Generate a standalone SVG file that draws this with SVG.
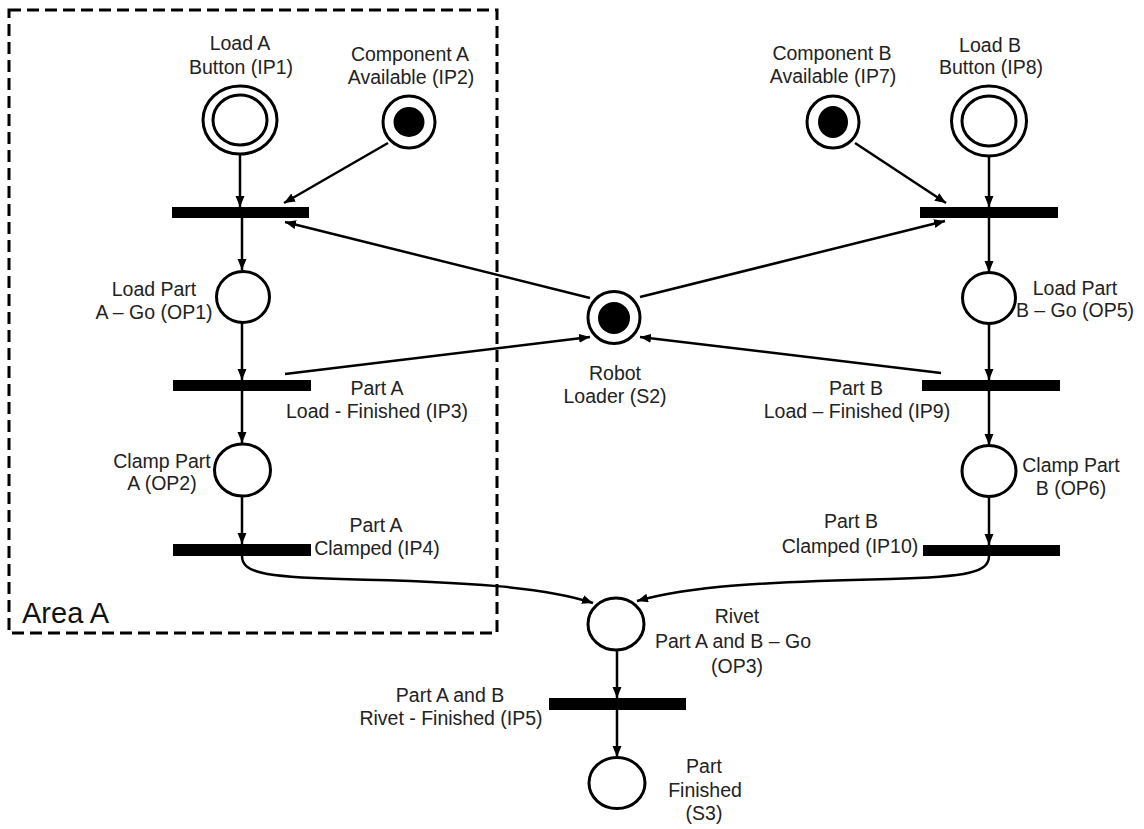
<svg xmlns="http://www.w3.org/2000/svg" width="1144" height="829" viewBox="0 0 1144 829">
<style>
  .pl { fill: #fff; stroke: #000; stroke-width: 3; }
  .tok { fill: #000; }
  .tr { fill: #000; }
  .arc { fill: none; stroke: #000; stroke-width: 2.5; }
  text { font-family: "Liberation Sans", Arial, sans-serif; font-size: 19.5px; fill: #222; text-anchor: middle; }
  .area { font-size: 29px; text-anchor: start; fill: #111; }
  .box { fill: none; stroke: #000; stroke-width: 3; stroke-dasharray: 12 6; }
</style>
<defs>
  <marker id="ah" markerUnits="userSpaceOnUse" markerWidth="12" markerHeight="10" refX="11" refY="4.5" orient="auto">
    <path d="M0,0 L11,4.5 L0,9 z" fill="#000"/>
  </marker>
</defs>
<rect width="1144" height="829" fill="#fff"/>

<g id="areaA">
  <rect class="box" x="9" y="10" width="488" height="623"/>
  <text class="area" x="22" y="623">Area A</text>
</g>

<g id="connectors">
  <line class="arc" x1="240" y1="155" x2="240" y2="207" marker-end="url(#ah)"/>
  <line class="arc" x1="388" y1="143" x2="284" y2="203" marker-end="url(#ah)"/>
  <line class="arc" x1="590" y1="298" x2="285" y2="222" marker-end="url(#ah)"/>
  <line class="arc" x1="242" y1="218" x2="242" y2="270" marker-end="url(#ah)"/>
  <line class="arc" x1="242" y1="323" x2="242" y2="380" marker-end="url(#ah)"/>
  <line class="arc" x1="285" y1="374" x2="590" y2="337" marker-end="url(#ah)"/>
  <line class="arc" x1="242" y1="391" x2="242" y2="443" marker-end="url(#ah)"/>
  <line class="arc" x1="242" y1="497" x2="242" y2="544" marker-end="url(#ah)"/>
  <path class="arc" d="M242,556 C242,572 262,577 340,579 C470,582 545,587 593,603" marker-end="url(#ah)"/>

  <line class="arc" x1="989" y1="157" x2="989" y2="207" marker-end="url(#ah)"/>
  <line class="arc" x1="855" y1="143" x2="946" y2="203" marker-end="url(#ah)"/>
  <line class="arc" x1="640" y1="297" x2="945" y2="221" marker-end="url(#ah)"/>
  <line class="arc" x1="989" y1="218" x2="989" y2="272" marker-end="url(#ah)"/>
  <line class="arc" x1="989" y1="324" x2="989" y2="380" marker-end="url(#ah)"/>
  <line class="arc" x1="941" y1="373" x2="640" y2="337" marker-end="url(#ah)"/>
  <line class="arc" x1="989" y1="391" x2="989" y2="445" marker-end="url(#ah)"/>
  <line class="arc" x1="989" y1="497" x2="989" y2="545" marker-end="url(#ah)"/>
  <path class="arc" d="M989,556 C989,572 969,577 890,579 C760,582 690,586 637,601" marker-end="url(#ah)"/>

  <line class="arc" x1="617" y1="651" x2="617" y2="698" marker-end="url(#ah)"/>
  <line class="arc" x1="617" y1="710" x2="617" y2="757" marker-end="url(#ah)"/>
</g>

<g id="IP1">
  <ellipse class="pl" cx="240" cy="120" rx="37" ry="34"/>
  <ellipse class="pl" cx="240" cy="120" rx="27" ry="25"/>
  <text x="240" y="50">Load A</text>
  <text x="241" y="74">Button (IP1)</text>
</g>
<g id="IP2">
  <ellipse class="pl" cx="409" cy="122" rx="26" ry="26"/>
  <ellipse class="tok" cx="409" cy="122" rx="15.5" ry="15"/>
  <text x="410" y="61">Component A</text>
  <text x="411" y="84">Available (IP2)</text>
</g>
<g id="T1A">
  <rect class="tr" x="172" y="207" width="137" height="11"/>
</g>
<g id="OP1">
  <ellipse class="pl" cx="243" cy="297" rx="26.5" ry="25.5"/>
  <text x="154" y="296">Load Part</text>
  <text x="154" y="319">A – Go (OP1)</text>
</g>
<g id="IP3">
  <rect class="tr" x="173" y="380" width="138" height="11"/>
  <text x="377" y="395">Part A</text>
  <text x="377" y="418">Load - Finished (IP3)</text>
</g>
<g id="OP2">
  <ellipse class="pl" cx="242.5" cy="470" rx="28" ry="26"/>
  <text x="162" y="468">Clamp Part</text>
  <text x="162" y="490">A (OP2)</text>
</g>
<g id="IP4">
  <rect class="tr" x="173" y="544" width="138" height="12"/>
  <text x="376" y="532">Part A</text>
  <text x="377" y="555">Clamped (IP4)</text>
</g>

<g id="S2">
  <ellipse class="pl" cx="614" cy="317.5" rx="26" ry="26"/>
  <ellipse class="tok" cx="614" cy="318" rx="16" ry="16"/>
  <text x="615" y="380">Robot</text>
  <text x="615" y="403">Loader (S2)</text>
</g>

<g id="IP7">
  <ellipse class="pl" cx="833" cy="122" rx="26" ry="26"/>
  <ellipse class="tok" cx="833" cy="122" rx="15" ry="16"/>
  <text x="832" y="60">Component B</text>
  <text x="833" y="83">Available (IP7)</text>
</g>
<g id="IP8">
  <ellipse class="pl" cx="989" cy="121" rx="37.5" ry="35"/>
  <ellipse class="pl" cx="989" cy="121" rx="27" ry="25"/>
  <text x="990" y="52">Load B</text>
  <text x="991" y="74">Button (IP8)</text>
</g>
<g id="T1B">
  <rect class="tr" x="920" y="207" width="138" height="11"/>
</g>
<g id="OP5">
  <ellipse class="pl" cx="989" cy="298" rx="26.5" ry="25.5"/>
  <text x="1075" y="295">Load Part</text>
  <text x="1075" y="317">B – Go (OP5)</text>
</g>
<g id="IP9">
  <rect class="tr" x="922" y="380" width="138" height="11"/>
  <text x="856" y="395">Part B</text>
  <text x="857" y="418">Load – Finished (IP9)</text>
</g>
<g id="OP6">
  <ellipse class="pl" cx="989" cy="471" rx="27" ry="25.5"/>
  <text x="1071" y="472">Clamp Part</text>
  <text x="1071" y="495">B (OP6)</text>
</g>
<g id="IP10">
  <rect class="tr" x="923" y="545" width="137" height="11"/>
  <text x="851" y="528">Part B</text>
  <text x="850" y="553">Clamped (IP10)</text>
</g>

<g id="OP3">
  <ellipse class="pl" cx="616" cy="624" rx="28" ry="26"/>
  <text x="737" y="623">Rivet</text>
  <text x="733" y="648">Part A and B – Go</text>
  <text x="737" y="673">(OP3)</text>
</g>
<g id="IP5">
  <rect class="tr" x="549" y="698" width="137" height="12"/>
  <text x="450" y="702">Part A and B</text>
  <text x="451" y="725">Rivet - Finished (IP5)</text>
</g>
<g id="S3">
  <ellipse class="pl" cx="617" cy="783" rx="28" ry="25.5"/>
  <text x="704" y="773">Part</text>
  <text x="705" y="797">Finished</text>
  <text x="704" y="820">(S3)</text>
</g>
</svg>
